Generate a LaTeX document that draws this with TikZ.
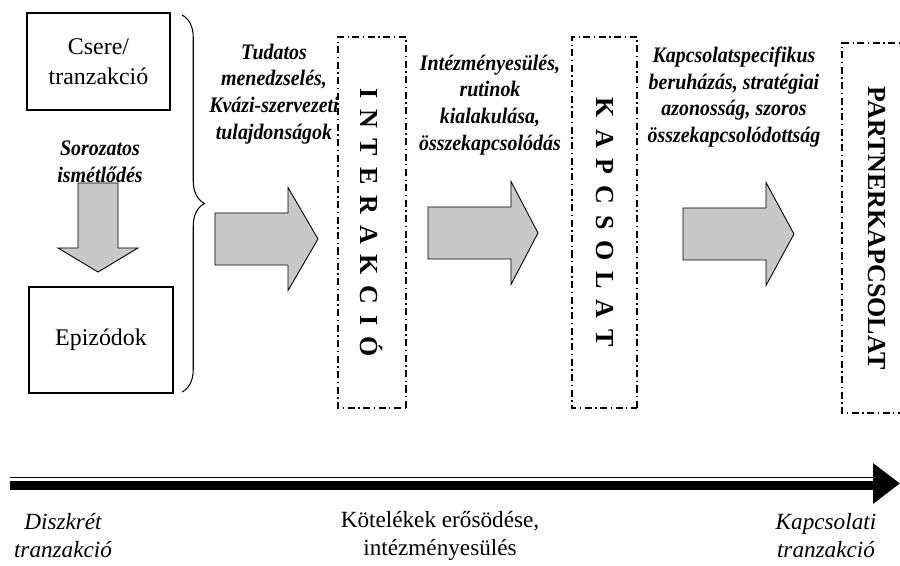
\documentclass[tikz,border=0pt]{standalone}
\usepackage{fontspec}
\setmainfont{Liberation Serif}
\newfontfamily\cimkefont[FakeStretch=0.9]{Liberation Serif}
\usepackage{xcolor}
\definecolor{blockgray}{RGB}{200,200,200}
\usetikzlibrary{arrows.meta,positioning,calc,decorations.pathreplacing}
\makeatletter
\newcommand{\ritkit}[1]{\@tfor\betu:=#1\do{\betu\kern6.2pt}\unkern}
\makeatother

\begin{document}
\begin{tikzpicture}[
  font=\fontsize{13.6}{16.8}\selectfont,
  termbox/.style={draw,line width=0.8pt,align=center},
  phaselabel/.style={align=center,font=\fontsize{12.6}{15.2}\selectfont\cimkefont\bfseries\itshape},
  stagebox/.style={draw,line width=0.8pt,dash pattern=on 4pt off 2pt on 0.8pt off 2pt,
    rotate=-90,font=\fontsize{14.8}{16}\selectfont\bfseries},
  blockarrow/.style={draw,fill=blockgray,line width=0.5pt,line join=miter},
  endlabel/.style={align=center,font=\fontsize{13.2}{16}\selectfont\itshape}]
  \useasboundingbox (0,0) rectangle (18,11.32);

  % left column
  \node[termbox,minimum width=2.86cm,minimum height=1.94cm] (csere) at (1.97,10.09) {Csere/\\tranzakció};
  \node[termbox,minimum width=2.88cm,minimum height=2.12cm] (epizod) at (2.02,4.52) {Epizódok};
  \node[phaselabel] (sorozat) at (2.0,8.08) {Sorozatos\\ismétlődés};
  \draw[blockarrow] (1.56,7.66) -- (2.36,7.66) -- (2.36,6.36) -- (2.76,6.36) -- (1.96,5.88)
    -- (1.16,6.36) -- (1.56,6.36) -- cycle;
  \coordinate (bracetop) at (3.64,11.02);
  \coordinate (bracebot) at (3.64,3.48);
  \draw[decorate,decoration={brace,amplitude=0.45cm},line width=0.6pt] (bracetop) -- (bracebot);

  % stages
  \node[stagebox,minimum width=7.42cm,minimum height=1.36cm] (interakcio) at (7.44,6.87) {\ritkit{INTERAKCIÓ}};
  \node[stagebox,minimum width=7.42cm,minimum height=1.30cm] (kapcsolat) at (12.09,6.87) {\ritkit{KAPCSOLAT}};
  \node[stagebox,minimum width=7.40cm,minimum height=1.40cm] (partner) at (17.54,6.76) {PARTNERKAPCSOLAT};

  \node[phaselabel] (tudatos) at (5.48,9.44) {Tudatos\\menedzselés,\\Kvázi-szervezeti\\tulajdonságok};
  \node[phaselabel] (intezmeny) at (9.8,9.22) {Intézményesülés,\\rutinok\\kialakulása,\\összekapcsolódás};
  \node[phaselabel] (specifikus) at (14.68,9.38) {Kapcsolatspecifikus\\beruházás, stratégiai\\azonosság, szoros\\összekapcsolódottság};

  \foreach \xa/\xb/\xc/\ym in {4.30/5.76/6.36/6.54, 8.56/10.22/10.76/6.66, 13.66/15.32/15.88/6.64}
    \draw[blockarrow] (\xa,\ym+0.52) -- (\xb,\ym+0.52) -- (\xb,\ym+1.03) -- (\xc,\ym)
      -- (\xb,\ym-1.03) -- (\xb,\ym-0.52) -- (\xa,\ym-0.52) -- cycle;

  % time axis
  \coordinate (tstart) at (0.2,1.65);
  \coordinate (tbase) at (17.46,1.65);
  \coordinate (tend) at (18,1.65);
  \draw[line width=0.26cm,-{Triangle[length=0.54cm,width=0.78cm]}] (tstart) -- (tend);
  \draw[white,line width=0.06cm] ([yshift=0.07cm]tstart) -- ([yshift=0.07cm]tbase);

  \node[endlabel] (diszkret) at (1.26,0.6) {Diszkrét\\tranzakció};
  \node[align=center,font=\fontsize{13.2}{16}\selectfont] (kotelek) at (8.8,0.6) {Kötelékek erősödése,\\intézményesülés};
  \node[endlabel] (kapcsolati) at (16.52,0.6) {Kapcsolati\\tranzakció};
\end{tikzpicture}
\end{document}
